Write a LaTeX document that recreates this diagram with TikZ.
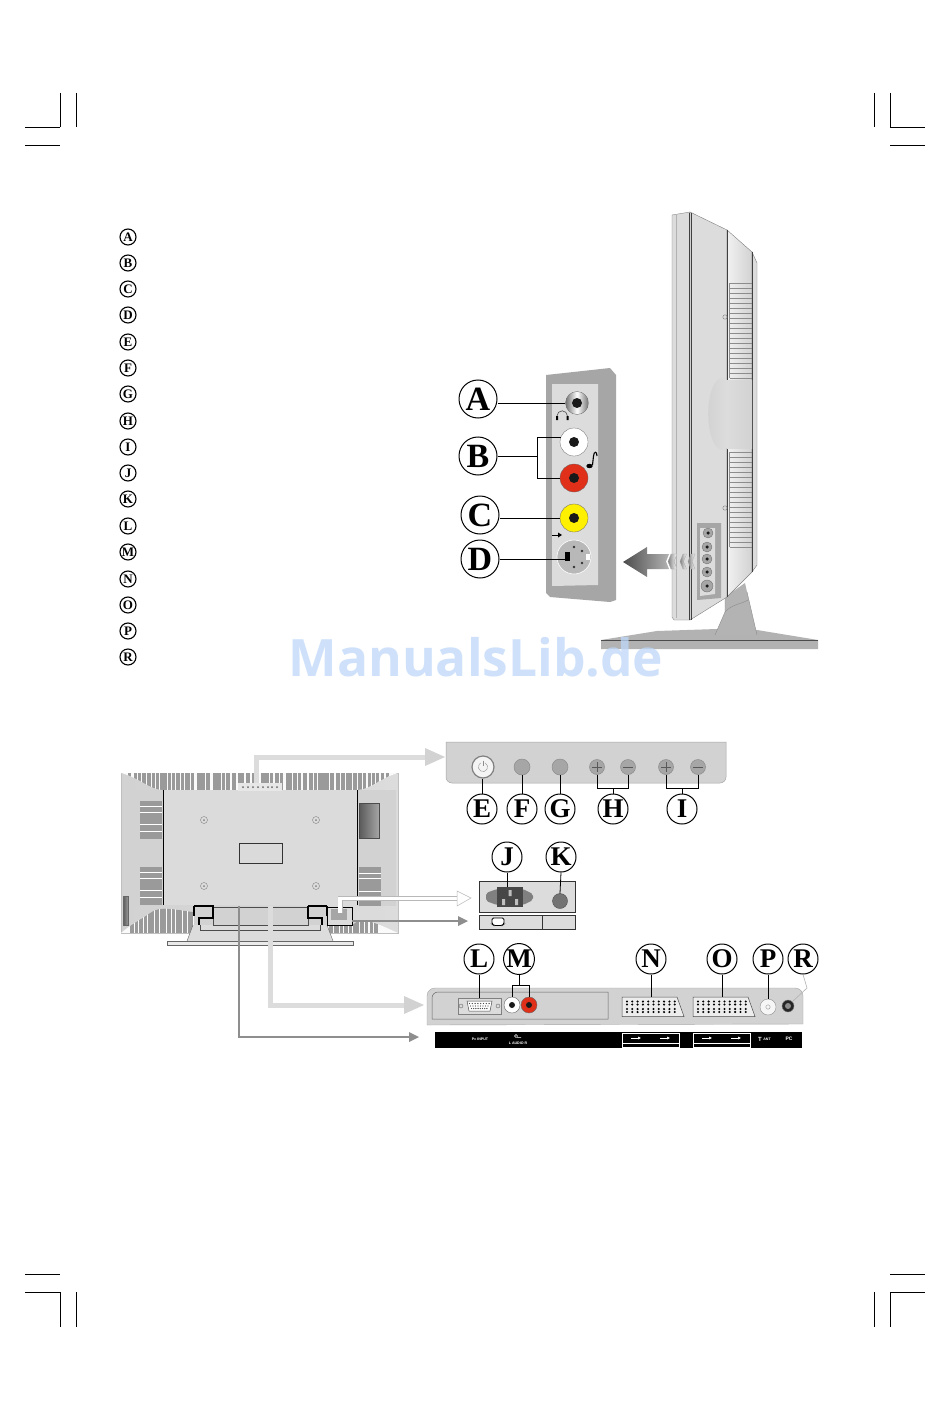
\documentclass[tikz,border=0pt]{standalone}
\usepackage{fontspec}
\setmainfont{Liberation Serif}
\newfontfamily\wmfont{Open Sans}
\newfontfamily\capfont{Liberation Sans}
\usetikzlibrary{arrows.meta,calc}
\definecolor{pg}{HTML}{A6A6A6}
\definecolor{pl}{HTML}{DCDCDC}
\definecolor{lite}{HTML}{D2D2D2}
\definecolor{midg}{HTML}{8E8E8E}
\definecolor{stripe}{HTML}{9A9A9A}
\definecolor{jr}{HTML}{E0301A}
\definecolor{jy}{HTML}{FFF000}
\definecolor{wm}{HTML}{BFD8F9}
\tikzset{
  big/.style={draw=black,line width=1pt,circle,fill=white,minimum size=38pt,inner sep=0pt,font=\fontsize{34}{34}\selectfont\bfseries},
  mid/.style={draw=black,line width=1pt,circle,fill=white,minimum size=30pt,inner sep=0pt,font=\fontsize{27}{27}\selectfont\bfseries},
  lst/.style={draw=black,line width=1.1pt,circle,fill=white,minimum size=16pt,inner sep=0pt,font=\fontsize{13}{13}\selectfont\bfseries},
  jack/.style={circle,minimum size=#1,inner sep=0pt,draw=black!60,line width=.3pt},
  btn/.style={circle,fill=pg,draw=black!45,line width=.5pt,minimum size=15pt,inner sep=0pt},
  lead/.style={draw=black,line width=.8pt},
  crop/.style={draw=black,line width=.5pt},
  hole/.style={circle,fill=black!90,minimum size=#1,inner sep=0pt},
  tiny/.style={text=white,inner sep=0pt,font=\capfont\fontsize{3.6}{4}\selectfont\bfseries},
  lightarrow/.style={draw=pl,line width=5pt},
  grayarrow/.style={draw=midg,line width=2.5pt},
}
\begin{document}
\begin{tikzpicture}[x=1pt,y=-1pt]
\useasboundingbox (0,0) rectangle (950,1420);
\fill[white] (0,0) rectangle (950,1420);
% crop marks
\foreach \x in {60,76,874,890}{
  \draw[crop] (\x,93)--(\x,127);
  \draw[crop] (\x,1292)--(\x,1327);
}
\foreach \y in {127,145,1274,1292}{
  \draw[crop] (25,\y)--(60,\y);
  \draw[crop] (890,\y)--(925,\y);
}
% list
\foreach \l/\y/\n in {A/237/a,B/263/b,C/289/c,D/315/d,E/342/e,F/368/f,G/394/g,H/421/h,I/447/i,J/473/j,K/499/k,L/526/l,M/552/m,N/579/n,O/605/o,P/631/p,R/657/r}{
  \node[lst] (list\n) at (128,\y) {\l};
}
% side view: stand
\fill[lite!85!black] (601,640)--(657,631)--(717,629)--(757,630)--(818,640)--(818,649)--(601,649)--cycle;
\draw[black!70,line width=.6pt] (601,640.5)--(818,640.5);
\fill[pg!85] (725,597)--(745,583)--(747,592)--(757,635)--(715,635)--(725,612)--cycle;
\draw[black!45,line width=.4pt] (725,597)--(725,612)--(715,635) (747,592)--(757,635);
\draw[black!45,line width=.4pt] (725,612) .. controls (732,604) and (742,604) .. (748,600);
% side view: body
\path[left color=pl,middle color=white,right color=pl,draw=black!50,line width=.4pt] (672,215)--(690,212)--(690,620)--(674,620)--(672,617)--cycle;
\path[left color=pl,middle color=white,right color=pl,draw=black!50,line width=.4pt] (690,212)--(727,230)--(727,597)--(690,620)--cycle;
\path[left color=white!60!pl,right color=lite,draw=black!50,line width=.4pt] (727,230)--(752,252)--(752,572)--(727,597)--cycle;
\path[fill=pl,draw=black!50,line width=.4pt] (752,252)--(757,263)--(757,565)--(752,572)--cycle;
\draw[black!75,line width=.6pt] (689,213)--(689,620) (691.5,213)--(691.5,620) (727,230)--(727,597) (752,252)--(752,572);
\draw[black!30,line width=.5pt] (676,215)--(676,618);
% bulge
\path[left color=lite,right color=pl] (727,380) arc[start angle=-70,end angle=-290,x radius=14,y radius=36] -- cycle;
\path[left color=pl,right color=lite] (727,380) rectangle (752,448);
% vents
\foreach \y in {283,288,...,378}{\draw[black!45,line width=.45pt] (729.5,\y)--(751.5,\y);}
\draw[black!45,line width=.45pt] (729.5,283)--(729.5,378);
\foreach \y in {452,457,...,547}{\draw[black!45,line width=.45pt] (729.5,\y)--(751.5,\y);}
\draw[black!45,line width=.45pt] (729.5,452)--(729.5,547);
\draw[black!50,line width=.4pt] (725,317) circle[radius=2.2] (725,508) circle[radius=2.2];
% side view port panel
\fill[pg] (697,523)--(721,523)--(721,598)--(697,600)--cycle;
\fill[pl] (700,528)--(715,528)--(715,594)--(700,596)--cycle;
\node[jack=10pt,fill=pg] (sa) at (708,533) {};
\node[jack=10pt,fill=pg] (sb) at (707,547) {};
\node[jack=10pt,fill=pg] (sc) at (707,559) {};
\node[jack=10pt,fill=pg] (sd) at (707,572) {};
\node[jack=12pt,fill=pg] (se) at (707,586) {};
\foreach \n in {sa,sb,sc,sd,se}{\node[hole=3.5pt] at (\n) {};}
% big arrow
\foreach \x/\w in {668/9,680/6.5,688/7}{
  \path[left color=black!50,right color=white,draw=black!35,line width=.3pt] (\x+\w,554)--(\x+3,554)--(\x,561.5)--(\x+3,569)--(\x+\w,569)--(\x+\w-3,561.5)--cycle;
}
\path[left color=black!70,right color=black!30] (623,562)--(647,547)--(647,554)--(669,554)--(666,561.5)--(669,569)--(647,569)--(647,577)--cycle;
% panel A-D
\fill[pg] (546,375)--(610,368)--(616,375)--(616,600)--(610,602)--(550,597)--(546,593)--cycle;
\fill[pl] (552,384)--(598,384)--(598,585)--(552,586)--cycle;
\node[jack=23pt,left color=black!55,right color=black!55,middle color=white] (ja) at (577,403) {};
\node[hole=10pt] at (ja) {};
\node[jack=28pt,fill=white] (jb) at (574,442) {};
\node[hole=10pt] at (jb) {};
\node[jack=28pt,fill=jr] (jc) at (574,478) {};
\node[hole=10pt] at (jc) {};
\node[jack=28pt,fill=jy] (jd) at (574,518) {};
\node[hole=10pt] at (jd) {};
\node[jack=34pt,fill=black!28,draw=white,line width=.6pt] (je) at (574,557) {};
\fill[black] (565,552) rectangle (570,561);
\foreach \a/\b in {574/547,582/551,582/563,574/567}{\fill[black!80] (\a,\b) circle[radius=1.4];}
\fill[white] (586,554) rectangle (590,560);
% headphone + note + S-video mark
\draw[black!70,line width=.6pt] (557,416) arc[start angle=180,end angle=360,radius=5.2];
\fill[black] (556,416) rectangle (558,420) (566.5,416) rectangle (568.5,420);
\draw[black,line width=1.1pt] (592.5,465)--(593.5,456) .. controls (594,451) and (597,451) .. (597,456);
\fill[black] (589.5,466) ellipse[x radius=3.2,y radius=2.2];
\draw[black,line width=.8pt] (552,535)--(560,535);
\fill[black] (558,532.5)--(562,535)--(558,537.5)--cycle;
% callouts A-D
\node[big] (A) at (478,399) {A};
\node[big] (B) at (478,456) {B};
\node[big] (C) at (480,515) {C};
\node[big] (D) at (480,559) {D};
\draw[lead] (ja.west)--(ja.west -| A.east);
\coordinate (bm) at (537,456);
\draw[lead] (B.east)--(bm);
\draw[lead] (jb.160)-|(bm);
\draw[lead] (jc.west)-|(bm);
\draw[lead] (jd.west)--(jd.west -| C.east);
\coordinate (dp) at (566,559);
\draw[lead] (D.east)--(dp);
% rear view
\path[left color=lite,right color=pl,draw=black!25,line width=.4pt] (121,773) rectangle (398,933);
\path[left color=lite,middle color=white!70!pl,right color=lite] (123,790) rectangle (163,905);
\path[left color=lite,middle color=white!70!pl,right color=lite] (357,790) rectangle (396,905);
% top stripes
\begin{scope}
\clip (121,773)--(398,773)..controls (380,778) and (370,790) .. (357,790)--(163,790)..controls (150,790) and (140,778) .. (121,773)--cycle;
\fill[white!90!lite] (121,773) rectangle (398,790);
\foreach \x/\w in {128/3,134/3,138/3,142/4,147/4,152/3,156/3,160/7,168/3,172/3,176/4,181/3,185/5,191/3,197/8,206/4,213/8,222/3,226/4,232/4,238/6,246/4,252/3,256/3,261/8,270/3,275/4,280/3,286/6,293/4,298/3,303/4,309/4,314/3,318/8,326/3,330/4,336/4,341/4,346/6,353/4,358/4,363/3,368/3,372/3,376/3,381/3,386/3}{
  \fill[stripe] (\x,773) rectangle ++(\w,17);
}
\end{scope}
% bottom stripes
\begin{scope}
\clip (121,933)--(194,933)--(194,912)..controls (175,910) and (160,905) .. (150,913)..controls (140,920) and (130,925) .. (121,933)--cycle;
\fill[white!90!lite] (121,905) rectangle (194,933);
\foreach \x/\w in {130/4,135/3,139/4,144/3,148/6,155/4,160/6,167/4,172/3,176/6,183/4,188/5}{\fill[stripe] (\x,905) rectangle ++(\w,28);}
\end{scope}
\begin{scope}
\clip (398,933)--(327,933)--(327,925)--(352,925)..controls (362,915) and (380,925) .. (398,933)--cycle;
\fill[white!90!lite] (327,905) rectangle (398,933);
\foreach \x/\w in {329/4,334/5,340/3,344/4,349/3,353/6,360/4,365/3,370/3,374/4}{\fill[stripe] (\x,905) rectangle ++(\w,28);}
\end{scope}
% centre plate
\fill[pl!85!lite] (163,790) rectangle (357,905);
\draw[black,line width=.7pt] (163,790)--(163,905) (357,790)--(357,905);
\node[draw=black!80,fill=pl!85!lite,line width=.6pt,minimum width=43pt,minimum height=20pt,inner sep=0pt] (rect) at (260.5,853) {};
\foreach \x/\y in {204/820,316/820,204/886,316/886}{
  \draw[black!50,line width=.4pt,fill=pl] (\x,\y) circle[radius=3.5];
  \fill[black!50] (\x,\y) circle[radius=1];
}
% side vents in rear view
\foreach \x/\y/\w/\h in {140/801/22/38,140/867/22/38,359/867/22/39}{
  \fill[stripe] (\x,\y) rectangle ++(\w,\h);
  \foreach \k in {0.15,0.3,0.62,0.8}{\draw[white,line width=.7pt] (\x,\y+\h*\k)--(\x+\w,\y+\h*\k);}
}
\path[left color=black!65,right color=black!35,draw=black!70,line width=.5pt] (359,803) rectangle (379,838);
\path[left color=black!65,right color=black!40,draw=black!60,line width=.4pt] (123,896) rectangle (128,925);
\fill[lite] (130,840) rectangle (134,865) (386,840) rectangle (390,865);
% control strip
\fill[pl!70!white] (238,783) rectangle (282,791);
\foreach \x in {243,248,253,258,263,268,272,277}{\fill[black!60] (\x,787) circle[radius=1];}
% rear stand and bay
\fill[pl] (193,925)--(327,925)--(333,941)--(187,941)--cycle;
\draw[black!60,line width=.4pt] (193,925)--(187,941) (327,925)--(333,941);
\draw[black!60,line width=.6pt,fill=pl!60!white] (167,941.5) rectangle (353,945);
\fill[lite] (194,906) rectangle (327,925);
\draw[black!70,line width=.5pt] (213,906)--(213,925)--(308,925)--(308,906) (200,925)--(200,930)--(320,930)--(320,925) (213,907)--(308,907);
\draw[black,line width=1.3pt] (194,906)--(213,906)--(213,918)--(199,918)--(199,925) (308,906)--(327,906) (194,906)--(194,916) (327,906)--(327,916) (308,906)--(308,918)--(322,918)--(322,925);
\fill[pl] (328,907) rectangle (352,925);
\draw[black,line width=1pt] (327,907)--(352,907)--(352,925)--(327,925)--cycle;
\fill[pg] (331,909) rectangle (347,920);
% top panel E-I
\path[left color=lite,middle color=white!60!lite,right color=lite,draw=black!35,line width=.5pt] (446,742)--(726,742)--(726,777) arc[start angle=0,end angle=90,radius=6]--(452,783) arc[start angle=90,end angle=180,radius=6]--cycle;
\node[btn,minimum size=22pt,fill=white!75!lite,draw=black!50,line width=1.2pt] (be) at (483,767) {};
\draw[black!45,line width=.4pt] (483,760.5)--(483,766);
\draw[black!45,line width=.4pt] (485.3,763) arc[start angle=-60,end angle=240,radius=4.6];
\node[btn,minimum size=16pt] (bf) at (522,767) {};
\node[btn,minimum size=16pt] (bg) at (560,767) {};
\node[btn] (bh1) at (597,767) {};
\node[btn] (bh2) at (628,767) {};
\node[btn] (bi1) at (666,767) {};
\node[btn] (bi2) at (698,767) {};
\foreach \n in {bh1,bh2,bi1,bi2}{\draw[black!65,line width=.4pt] ($(\n)+(-5,0)$)--($(\n)+(5,0)$);}
\foreach \n in {bh1,bi1}{\draw[black!65,line width=.4pt] ($(\n)+(0,-5)$)--($(\n)+(0,5)$);}
\node[mid] (E) at (482,809) {E};
\node[mid] (F) at (522,809) {F};
\node[mid] (G) at (560,809) {G};
\node[mid] (H) at (613,809) {H};
\node[mid] (I) at (682,809) {I};
\draw[lead] (E.north)--(E.north |- be.south);
\draw[lead] (F.north)--(bf.south);
\draw[lead] (G.north)--(bg.south);
\coordinate (hm) at (613,788);
\coordinate (im) at (682,788);
\draw[lead] (H.north)--(hm);
\draw[lead] (bh1.south)|-(hm);
\draw[lead] (bh2.south)|-(hm);
\draw[lead] (I.north)--(im);
\draw[lead] (bi1.south)|-(im);
\draw[lead] (bi2.south)|-(im);
% J K panels
\node[draw=black!80,fill=pl,line width=.7pt,minimum width=96pt,minimum height=31pt,inner sep=0pt] (boxj) at (527,896.5) {};
\node[draw=black!80,fill=pl,line width=.7pt,minimum width=96pt,minimum height=14pt,inner sep=0pt] (boxl) at (527,922) {};
\draw[black!80,line width=.6pt] (542,915)--(542,929);
\draw[black,line width=.8pt,fill=white,rounded corners=1.5pt] (492,918)--(504,918)--(504,924)--(502,925.5)--(494,925.5)--(492,924)--cycle;
\fill[black!50,rounded corners=2pt] (486,893)--(497,889)--(523,889)--(533,894)--(533,900)--(523,905)--(497,905)--(486,901)--cycle;
\node[fill=black!72,minimum width=26pt,minimum height=20pt,inner sep=0pt] (sock) at (510,897) {};
\fill[black!25] (502,899) rectangle (505,905) (508.5,890) rectangle (511.5,896) (515,899) rectangle (518,905);
\node[circle,fill=black!55,draw=black!70,minimum size=15pt,inner sep=0pt,line width=.4pt] (kj) at (560,901) {};
\node[mid] (J) at (507,857) {J};
\node[mid] (K) at (561,857) {K};
\draw[lead] (J.south)--(J.south |- sock.north);
\draw[lead] (K.south)--(kj.north);
% lower panel L-R
\path[fill=lite,draw=black!35,line width=.4pt] (427,1025)--(427,996) arc[start angle=180,end angle=270,radius=8]--(795,988) arc[start angle=270,end angle=360,radius=8]--(803,1024)--cycle;
\draw[black!60,line width=.5pt] (432,1019)--(432,998) arc[start angle=180,end angle=270,radius=6]--(608,992)--(608,1019)--cycle;
\node[draw=black!50,fill=pl,minimum width=43pt,minimum height=16pt,inner sep=0pt,line width=.4pt] (vga) at (479.5,1006) {};
\path[draw=black!70,fill=white,line width=.5pt] (467,1001)--(492,1001)--(490,1011)--(469,1011)--cycle;
\foreach \i in {0,...,7}{\fill[black!70] (469.5+\i*2.8,1003.5) circle[radius=.7] (470.5+\i*2.5,1006) circle[radius=.7] (471.5+\i*2.2,1008.5) circle[radius=.7];}
\draw[black!60,line width=.4pt] (461,1006) circle[radius=2] (498,1006) circle[radius=2];
\node[circle,fill=white,draw=black!60,minimum size=16pt,inner sep=0pt,line width=.4pt] (mw) at (512,1005) {};
\node[hole=6pt] at (mw) {};
\node[circle,fill=jr,draw=black!60,minimum size=16pt,inner sep=0pt,line width=.4pt] (mr) at (529,1005) {};
\node[hole=6pt] at (mr) {};
\foreach \x in {622,693}{
  \path[draw=black!70,fill=pl!50!white,line width=.5pt] (\x,997) -- (\x+55,997) -- (\x+62,1016.5) -- (\x,1016.5) -- cycle;
  \foreach \i in {0,...,9}{\foreach \y in {1001.5,1004.5,1009,1012}{\fill[black] (\x+5+\i*5.3,\y) circle[radius=1.15];}}
}
\coordinate (scn) at (651,997);
\coordinate (sco) at (722,997);
\node[circle,fill=white!80!lite,draw=black!45,minimum size=16pt,inner sep=0pt,line width=.4pt] (pj) at (768,1007) {};
\draw[black!50,line width=.3pt] (pj) circle[radius=2.2];
\node[circle,fill=black!85,draw=black!50,minimum size=12pt,inner sep=0pt,line width=.4pt] (rj) at (788,1006) {};
\fill[black!45] (rj) circle[radius=3];
\node[mid] (L) at (479,959) {L};
\node[mid] (M) at (519,959) {M};
\node[mid] (N) at (651,959) {N};
\node[mid] (O) at (722,959) {O};
\node[mid] (P) at (768,959) {P};
\node[mid] (R) at (803,959) {R};
\draw[lead] (L.south)--(L.south |- vga.north);
\coordinate (mm) at (519,985);
\draw[lead] (M.south)--(mm);
\draw[lead] (mw.north)|-(mm);
\draw[lead] (mr.north)|-(mm);
\draw[lead] (N.south)--(scn);
\draw[lead] (O.south)--(sco);
\draw[lead] (P.south)--(pj.north);
\draw[black!30,line width=.6pt] (R.south)--(807,988)--(rj.north east);
% black strip
\node[fill=black,minimum width=367pt,minimum height=16pt,inner sep=0pt] (strip) at (618.5,1040) {};
\foreach \x in {622,693}{
  \draw[white,line width=.6pt] (\x,1033.5) rectangle (\x+57,1047);
  \draw[white,line width=.6pt] (\x,1043)--(\x+57,1043);
  \draw[white,line width=.5pt,-{Latex[length=3pt,width=3pt]}] (\x+9,1038)--(\x+19,1038);
  \draw[white,line width=.5pt,-{Latex[length=3pt,width=3pt]}] (\x+38,1038)--(\x+48,1038);
}
\node[tiny] (tpc) at (480,1039) {Pc INPUT};
\node[tiny] (taud) at (518,1043) {L AUDIO R};
\draw[white,line width=.5pt] (516,1036)circle[radius=1.6] (517,1037.5)--(521,1037.5);
\node[tiny,font=\capfont\fontsize{6}{6}\selectfont\bfseries] (tt) at (760,1039) {T};
\node[tiny] (tant) at (767,1039.5) {ANT};
\node[tiny,font=\capfont\fontsize{5}{5}\selectfont\bfseries] (tpcb) at (789,1039) {PC};
% pointer arrows
\coordinate (a1s) at (256,783);
\coordinate (a1e) at (445,757);
\draw[lightarrow] (a1s)|-(427,757);
\fill[lite] (a1e)--(425,748)--(425,766)--cycle;
\coordinate (a4s) at (270,906);
\coordinate (a4e) at (424,1005);
\draw[lightarrow] (a4s)|-(407,1005);
\fill[lite] (a4e)--(404,996)--(404,1014)--cycle;
\coordinate (a5s) at (239,906);
\coordinate (a5e) at (419,1037);
\draw[grayarrow] (a5s)|-(410,1037);
\fill[midg] (a5e)--(409,1032)--(409,1042)--cycle;
\coordinate (a3s) at (352,921);
\coordinate (a3e) at (468,921);
\draw[grayarrow] (a3s)--(458,921);
\fill[midg] (a3e)--(458,916)--(458,926)--cycle;
\coordinate (a2s) at (340,913);
\coordinate (a2e) at (471,898);
\draw[black!28,line width=5pt] (a2s)|-(457,898.5);
\draw[white,line width=3.8pt] (a2s)|-(458,898.5);
\path[draw=black!28,fill=white,line width=.5pt] (a2e)--(457,891)--(457,906)--cycle;
% watermark
\node[text=wm,opacity=.75,inner sep=0pt,font=\wmfont\fontsize{51.5}{52}\selectfont\bfseries] (wmark) at (476,657) {ManualsLib.de};
\end{tikzpicture}
\end{document}
